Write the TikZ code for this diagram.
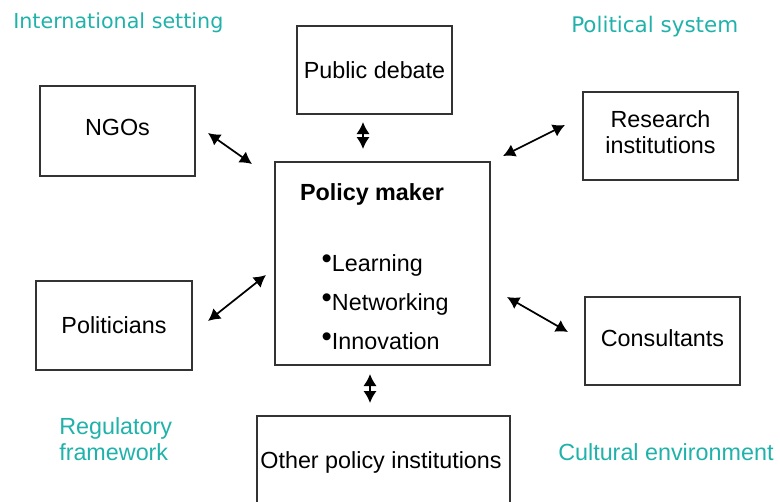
\documentclass[tikz,border=0pt]{standalone}
\usepackage{fontspec}
\setmainfont{Liberation Sans}
\newfontfamily\labelfont{DejaVu Sans}
\usetikzlibrary{arrows.meta}
\definecolor{envteal}{RGB}{32,178,170}
\tikzset{>={Latex[length=9pt,width=10pt]}}
\tikzset{
  actor/.style={draw=black!80, line width=1.2pt, minimum width=116.25pt, minimum height=66pt, align=center, font=\fontsize{17.5}{19.5}\selectfont},
  link/.style={<->, line width=1.3pt},
  envlabel/.style={text=envteal, align=left, inner sep=0pt, font=\fontsize{17.5}{19.5}\selectfont}
}
\newcommand\itemdot{\raisebox{2.5pt}{\fontsize{22}{22}\selectfont\textbullet}}

\begin{document}
\begin{tikzpicture}[x=0.75pt,y=-0.75pt]
            \useasboundingbox (0,0) rectangle (780,501);
            \clip (0,0) rectangle (780,501);

            \node[actor] (debate) at (374.5,70) {Public debate};
            \node[actor, minimum height=67.5pt, text depth=6pt] (ngos) at (117.5,131) {NGOs};
            \node[actor, text depth=6.5pt] (research) at (660.5,136) {Research\\institutions};
            \node[actor, minimum width=161.25pt, minimum height=152.25pt] (policy) at (382.5,263.5) {};
            \node[font=\bfseries\fontsize{17.5}{19.5}\selectfont] (title) at (372,194) {Policy maker};
            \node[anchor=west, align=left, font=\fontsize{17.5}{29.25}\selectfont] (tasks) at (317,302) {\itemdot Learning\\\itemdot Networking\\\itemdot Innovation};
            \node[actor, minimum width=117pt, minimum height=66.75pt] (politicians) at (114,325.5) {Politicians};
            \node[actor, text depth=4.5pt] (consultants) at (662.5,341) {Consultants};
            \node[actor, minimum width=189.75pt, minimum height=150pt, anchor=north] (others) at (383.5,415) {};
            \node[font=\fontsize{17.5}{19.5}\selectfont] (otherstext) at (381,462) {Other policy institutions};

            \node[envlabel, anchor=west, font=\labelfont\fontsize{15.5}{18}\selectfont] (intl) at (13,23) {International setting};
            \node[envlabel, anchor=west, font=\labelfont\fontsize{16.1}{18}\selectfont] (polsys) at (571,27) {Political system};
            \node[envlabel, anchor=west] (regul) at (59,439) {Regulatory\\framework};
            \node[envlabel, anchor=west] (cultural) at (558,452) {Cultural environment};

            \coordinate (ngosA) at (208,133);
            \coordinate (ngosB) at (252,164);
            \coordinate (debateA) at (363,122);
            \coordinate (debateB) at (363,149);
            \coordinate (researchA) at (503,156);
            \coordinate (researchB) at (565,125);
            \coordinate (politiciansA) at (208,321);
            \coordinate (politiciansB) at (266,275);
            \coordinate (consultantsA) at (507,297);
            \coordinate (consultantsB) at (568,332);
            \coordinate (othersA) at (370,374);
            \coordinate (othersB) at (370,403);

            \draw[link] (ngosA) -- (ngosB);
            \draw[link] (debateA) -- (debateB);
            \draw[link] (researchA) -- (researchB);
            \draw[link] (politiciansA) -- (politiciansB);
            \draw[link] (consultantsA) -- (consultantsB);
            \draw[link] (othersA) -- (othersB);

\end{tikzpicture}
\end{document}
